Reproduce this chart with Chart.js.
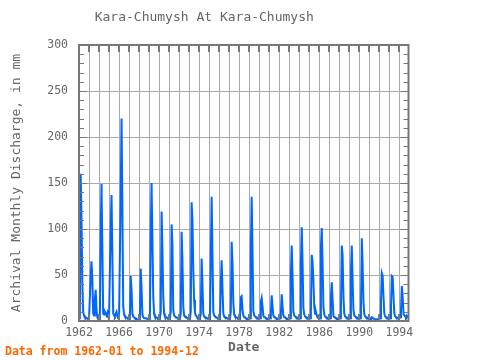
<!DOCTYPE html>
<html>
<head>
<meta charset="utf-8">
<script src="https://cdn.jsdelivr.net/npm/chart.js@4.4.0/dist/chart.umd.min.js"></script>
<style>
  html, body { margin: 0; padding: 0; background: #fff; }
  #wrap { width: 480px; height: 360px; position: relative; }
</style>
</head>
<body>
<div id="wrap"><canvas id="chart"></canvas></div>
<script>
// monthly discharge, mm — one row per year, Jan..Dec
const firstYear = 1962;
const lastYear = 1994;
const yearLabels = [1962, 1966, 1970, 1974, 1978, 1982, 1986, 1990, 1994];
const discharge = [
  3, 5, 160, 112, 41, 10, 6, 4, 4, 3, 3, 2,      // 1962
  2, 2, 48, 65, 45, 8, 6, 23, 34, 12, 4, 2,      // 1963
  2, 3, 95, 149, 79, 8, 7, 10, 8, 6, 9, 4,       // 1964
  3, 3, 102, 137, 71, 8, 6, 5, 8, 10, 5, 3,      // 1965
  3, 3, 137, 220, 124, 16, 7, 5, 4, 4, 3, 2,     // 1966
  2, 3, 49, 34, 8, 5, 4, 3, 3, 2, 2, 2,          // 1967
  2, 3, 57, 36, 7, 4, 3, 3, 3, 3, 2, 2,          // 1968
  2, 3, 96, 150, 90, 27, 8, 5, 4, 4, 3, 2,       // 1969
  2, 3, 10, 119, 79, 27, 8, 5, 4, 4, 3, 2,       // 1970
  2, 3, 10, 105, 83, 12, 6, 5, 4, 4, 3, 2,       // 1971
  2, 3, 8, 97, 66, 16, 6, 5, 5, 4, 3, 2,         // 1972
  2, 3, 10, 129, 110, 56, 23, 9, 6, 5, 3, 2,     // 1973
  2, 3, 8, 68, 40, 8, 5, 4, 4, 3, 3, 2,          // 1974
  2, 3, 71, 135, 73, 10, 6, 5, 4, 4, 3, 2,       // 1975
  2, 3, 41, 66, 35, 8, 5, 4, 4, 3, 3, 2,         // 1976
  2, 3, 10, 86, 63, 20, 7, 5, 4, 4, 3, 2,        // 1977
  2, 3, 26, 27, 12, 6, 4, 4, 3, 3, 2, 2,         // 1978
  2, 3, 76, 135, 76, 11, 6, 5, 4, 4, 3, 2,       // 1979
  2, 3, 21, 25, 16, 6, 4, 4, 3, 3, 2, 2,         // 1980
  2, 3, 8, 28, 16, 6, 4, 4, 3, 3, 2, 2,          // 1981
  2, 3, 8, 29, 16, 6, 4, 4, 3, 3, 2, 2,          // 1982
  2, 3, 51, 82, 49, 10, 6, 5, 4, 4, 3, 2,        // 1983
  2, 3, 62, 102, 63, 14, 7, 5, 4, 4, 3, 2,       // 1984
  2, 3, 10, 72, 64, 44, 16, 8, 10, 6, 4, 3,      // 1985
  2, 3, 80, 101, 62, 16, 7, 5, 4, 4, 3, 2,       // 1986
  2, 3, 26, 42, 23, 6, 4, 4, 3, 3, 2, 2,         // 1987
  2, 3, 10, 82, 72, 27, 8, 5, 4, 4, 3, 2,        // 1988
  2, 3, 55, 82, 44, 12, 6, 5, 4, 4, 3, 2,        // 1989
  2, 3, 12, 90, 61, 21, 7, 5, 4, 4, 3, 2,        // 1990
  2, 2, 3, 4, 3, 3, 2, 2, 2, 2, 2, 2,            // 1991
  2, 3, 20, 52, 49, 27, 8, 5, 4, 4, 3, 2,        // 1992
  2, 3, 15, 49, 48, 27, 8, 5, 4, 4, 3, 2,        // 1993
  3, 4, 12, 38, 26, 8, 6, 5, 4, 6, 5, 3          // 1994
];

const mono = "'DejaVu Sans Mono', 'Liberation Mono', monospace";
const points = discharge.map((v, i) => ({ x: firstYear + i / 12, y: v }));

// frame + inward tick marks, and the footer note
const frame = {
  id: "frame",
  afterDatasetsDraw(chart) {
    const { ctx, chartArea: a, scales } = chart;
    ctx.save();
    ctx.strokeStyle = "#777";
    ctx.lineWidth = 2;
    for (let yr = firstYear; yr <= lastYear; yr++) {
      const px = Math.round(scales.x.getPixelForValue(yr));
      ctx.beginPath();
      ctx.moveTo(px, a.top);
      ctx.lineTo(px, a.top + 7);
      ctx.moveTo(px, a.bottom);
      ctx.lineTo(px, a.bottom - 7);
      ctx.stroke();
    }
    ctx.lineWidth = 1;
    for (let v = 0; v <= 300; v += 10) {
      const py = Math.round(scales.y.getPixelForValue(v)) + 0.5;
      const len = v % 50 === 0 ? 8 : 5;
      ctx.beginPath();
      ctx.moveTo(a.left, py);
      ctx.lineTo(a.left + len, py);
      ctx.moveTo(a.right, py);
      ctx.lineTo(a.right - len, py);
      ctx.stroke();
    }
    ctx.lineWidth = 2;
    ctx.strokeRect(a.left, a.top, a.right - a.left, a.bottom - a.top);
    ctx.restore();
  },
  afterDraw(chart) {
    const ctx = chart.ctx;
    ctx.save();
    ctx.font = "bold 11.5px " + mono;
    ctx.fillStyle = "#ff6600";
    ctx.textBaseline = "middle";
    ctx.textAlign = "left";
    ctx.fillText("Data from 1962-01 to 1994-12", 5, 352);
    ctx.restore();
  },
};

new Chart(document.getElementById("chart"), {
  type: "line",
  data: {
    datasets: [
      {
        label: "Discharge",
        data: points,
        borderColor: "#0066ff",
        borderWidth: 2,
        pointRadius: 0,
        tension: 0,
        fill: false,
      },
    ],
  },
  options: {
    responsive: true,
    maintainAspectRatio: false,
    animation: false,
    layout: { padding: { left: 0, right: 71.5, top: 0, bottom: 0 } },
    scales: {
      x: {
        type: "linear",
        min: firstYear,
        max: firstYear + (discharge.length - 1) / 12,
        afterFit: (s) => { s.height = 39; },
        border: { display: false },
        grid: { color: "#aaa", lineWidth: 1, drawTicks: false },
        ticks: {
          stepSize: 1,
          includeBounds: false,
          autoSkip: false,
          maxRotation: 0,
          padding: 5,
          color: "#666",
          font: { family: mono, size: 11.5 },
          callback: (v) => (yearLabels.includes(v) ? String(v) : ""),
        },
        title: {
          display: true,
          text: "Date",
          color: "#666",
          font: { family: mono, size: 13, weight: "bold" },
          padding: { top: 0, bottom: 4.5 },
        },
      },
      y: {
        min: 0,
        max: 300,
        afterFit: (s) => { s.width = 79; },
        border: { display: false },
        grid: {
          drawTicks: false,
          color: (c) => (c.tick && c.tick.value % 50 === 0 ? "#aaa" : "rgba(0,0,0,0)"),
        },
        ticks: {
          stepSize: 10,
          autoSkip: false,
          padding: 11,
          color: "#666",
          font: { family: mono, size: 11.5 },
          callback: (v) => (v % 50 === 0 ? String(v) : ""),
        },
        title: {
          display: true,
          text: "Archival Monthly Discharge, in mm",
          color: "#666",
          font: { family: mono, size: 13 },
          padding: { top: 9, bottom: 0 },
        },
      },
    },
    plugins: {
      legend: { display: false },
      tooltip: { enabled: false },
      title: {
        display: true,
        text: "Kara-Chumysh At Kara-Chumysh",
        color: "#666",
        font: { family: mono, size: 13, weight: "normal" },
        padding: { top: 10, bottom: 19.4 },
      },
    },
  },
  plugins: [frame],
});
</script>
</body>
</html>
